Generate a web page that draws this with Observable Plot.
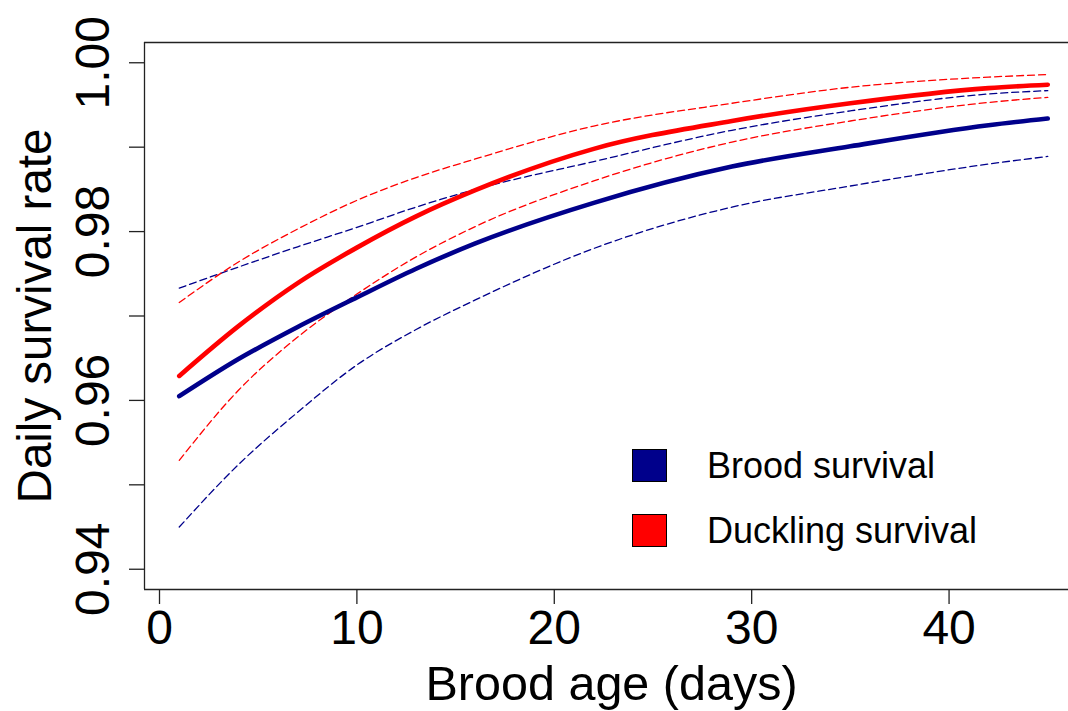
<!DOCTYPE html>
<html>
<head>
<meta charset="utf-8">
<script src="https://cdn.jsdelivr.net/npm/d3@7"></script>
<script src="https://cdn.jsdelivr.net/npm/@observablehq/plot@0.6"></script>
<style>
  html, body { margin: 0; padding: 0; background: #fff; overflow: hidden; }
  #wrap { position: relative; width: 1068px; height: 711px; font-family: "Liberation Sans", Arial, sans-serif; }
  .leg { position: absolute; display: flex; align-items: center; font-size: 36px; color: #000; }
  .sw { width: 33px; height: 31px; border: 1px solid #000; margin-right: 40px; }
</style>
</head>
<body>
<div id="wrap"></div>
<script>
// Brood age (days)
const ages = [1, 4, 7, 10, 13, 16, 22, 29, 35, 42, 45];
// Brood survival (mean and dashed bounds)
const broodMean  = [0.9605, 0.9649, 0.9687, 0.9722, 0.9756, 0.9786, 0.9834, 0.9877, 0.9901, 0.9926, 0.9934];
const broodUpper = [0.9733, 0.9758, 0.9782, 0.9805, 0.9829, 0.9850, 0.9883, 0.9920, 0.9943, 0.9963, 0.9967];
const broodLower = [0.9450, 0.9524, 0.9586, 0.9642, 0.9684, 0.9719, 0.9780, 0.9829, 0.9854, 0.9880, 0.9889];
// Duckling survival (mean and dashed bounds)
const duckMean  = [0.9629, 0.9688, 0.9739, 0.9781, 0.9818, 0.9849, 0.9898, 0.9931, 0.9952, 0.9970, 0.9974];
const duckUpper = [0.9716, 0.9764, 0.9803, 0.9837, 0.9864, 0.9886, 0.9925, 0.9952, 0.9971, 0.9983, 0.9986];
const duckLower = [0.9529, 0.9612, 0.9675, 0.9726, 0.9770, 0.9806, 0.9860, 0.9906, 0.9931, 0.9953, 0.9959];

const xTicks = [0, 10, 20, 30, 40];
const yTicks = [0.94, 0.95, 0.96, 0.97, 0.98, 0.99, 1.00];
const yLabels = [0.94, 0.96, 0.98, 1.00];
const legendItems = [
  {label: "Brood survival", color: "#00008B"},
  {label: "Duckling survival", color: "#FF0000"}
];

const BLUE = "#00008B", RED = "#FF0000";
const rows = (vals) => ages.map((a, i) => ({age: a, v: vals[i]}));

const xDom = [1 - 0.04 * 44, 45 + 0.04 * 44];
const yDom = [0.94 - 0.0024, 1.00 + 0.0024];

const dash = {strokeWidth: 1.3, strokeDasharray: "7,4", curve: "monotone-x"};
const solid = {strokeWidth: 4.6, curve: "monotone-x", strokeLinecap: "round"};

const plot = Plot.plot({
  width: 1068,
  height: 711,
  marginTop: 42,
  marginBottom: 122,
  marginLeft: 144,
  marginRight: 0,
  style: {fontFamily: "'Liberation Sans', Arial, sans-serif", background: "#fff"},
  x: {domain: xDom, range: [144, 1082]},
  y: {domain: yDom, range: [589, 42]},
  marks: [
    Plot.line(rows(broodUpper), {x: "age", y: "v", stroke: BLUE, ...dash}),
    Plot.line(rows(broodLower), {x: "age", y: "v", stroke: BLUE, ...dash}),
    Plot.line(rows(duckUpper), {x: "age", y: "v", stroke: RED, ...dash}),
    Plot.line(rows(duckLower), {x: "age", y: "v", stroke: RED, ...dash}),
    Plot.line(rows(duckMean), {x: "age", y: "v", stroke: RED, ...solid}),
    Plot.line(rows(broodMean), {x: "age", y: "v", stroke: BLUE, ...solid}),
    // box
    Plot.ruleY([yDom[0], yDom[1]], {x1: xDom[0], x2: xDom[1], stroke: "#222", strokeWidth: 1.3}),
    Plot.ruleX([xDom[0], xDom[1]], {y1: yDom[0], y2: yDom[1], stroke: "#222", strokeWidth: 1.3}),
    // axes
    Plot.axisX({ticks: xTicks, tickSize: 15, tickPadding: 5, fontSize: 48, label: null, stroke: "#222", strokeWidth: 1.3, tickFormat: d => String(d)}),
    Plot.axisY({ticks: yTicks, tickSize: 15, text: null, label: null, stroke: "#222", strokeWidth: 1.3}),
    Plot.text(yLabels, {y: d => d, frameAnchor: "left", dx: -51, rotate: -90, text: d => d.toFixed(2), fontSize: 48, textAnchor: "middle", lineAnchor: "middle", fill: "#000"}),
    Plot.text(["Brood age (days)"], {x: () => 22.9, y: () => yDom[0], dy: 94.5, text: d => d, fontSize: 48.5, textAnchor: "middle", lineAnchor: "middle", fill: "#000"}),
    Plot.text(["Daily survival rate"], {y: () => (yDom[0] + yDom[1]) / 2, frameAnchor: "left", dx: -109, rotate: -90, text: d => d, fontSize: 47.5, textAnchor: "middle", lineAnchor: "middle", fill: "#000"})
  ]
});

const wrap = document.getElementById("wrap");
wrap.appendChild(plot);

const legTops = [449, 514];
legendItems.forEach((it, i) => {
  const d = document.createElement("div");
  d.className = "leg";
  d.style.left = "632px";
  d.style.top = legTops[i] + "px";
  d.style.height = "33px";
  const sw = document.createElement("div");
  sw.className = "sw";
  sw.style.background = it.color;
  const t = document.createElement("span");
  t.textContent = it.label;
  d.appendChild(sw);
  d.appendChild(t);
  wrap.appendChild(d);
});
</script>
</body>
</html>
